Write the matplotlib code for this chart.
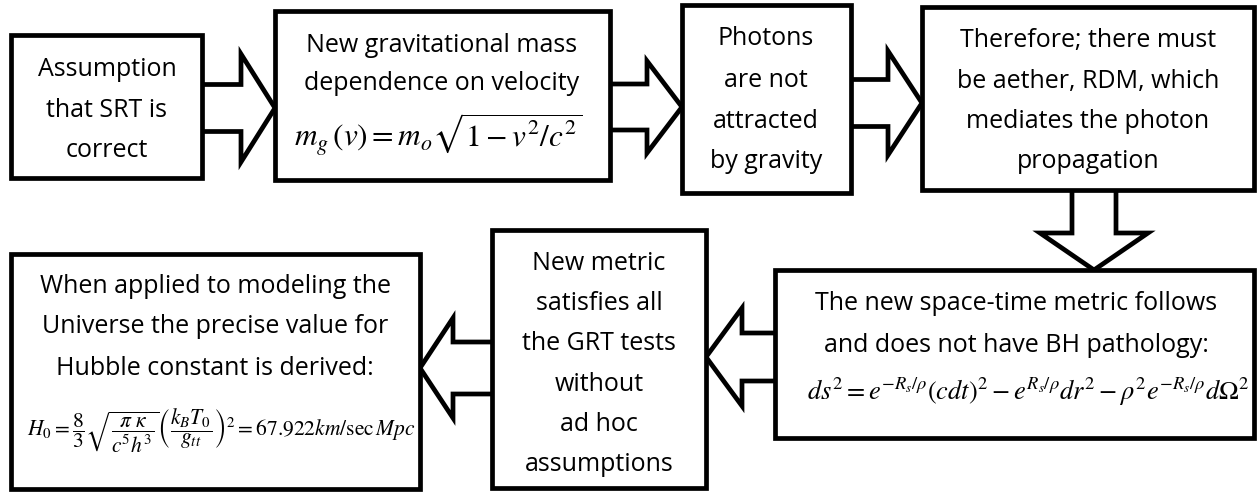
import matplotlib
matplotlib.use("Agg")
import matplotlib.pyplot as plt
from matplotlib.patches import Rectangle, Polygon

plt.rcParams['font.family'] = ['Open Sans', 'DejaVu Sans']
plt.rcParams['mathtext.fontset'] = 'stix'

# texto de cada caja (lineas)
box1_lines = ["Assumption", "that SRT is", "correct"]
box2_lines = ["New gravitational mass", "dependence on velocity"]
box2_formula = r"$m_g\,(v) = m_o\sqrt{1 - v^2/c^2}$"
box3_lines = ["Photons", "are not", "attracted", "by gravity"]
box4_lines = ["Therefore; there must", "be aether, RDM, which",
              "mediates the photon", "propagation"]
box5_lines = ["The new space-time metric follows", "and does not have BH pathology:"]
box5_formula = (r"$ds^2 = e^{-R_s/\rho}(cdt)^2 - e^{R_s/\rho}dr^2"
                r" - \rho^2 e^{-R_s/\rho}d\Omega^2$")
box6_lines = ["New metric", "satisfies all", "the GRT tests", "without", "ad hoc", "assumptions"]
box7_lines = ["When applied to modeling the", "Universe the precise value for",
              "Hubble constant is derived:"]
box7_formula = (r"$H_0 = \dfrac{8}{3}\sqrt{\dfrac{\pi\ \kappa}{c^5h^3}}"
                r"\left(\dfrac{k_BT_0}{g_{tt}}\right)^2 = 67.922km/\sec Mpc$")

# layout en pixeles: (x0, y0, x1, y1)
cajas = [(11, 35, 202, 178), (275, 11, 610, 180), (682, 5, 851, 193),
         (922, 7, 1254, 190), (775, 270, 1254, 438), (492, 230, 706, 488),
         (11, 254, 420, 489)]

fig = plt.figure(figsize=(12.57, 4.93), dpi=100)
ax = fig.add_axes([0, 0, 1, 1])
ax.set_xlim(0, 1257)
ax.set_ylim(493, 0)
ax.axis('off')

LW = 3.4


def flecha_h(x0, x1, yc, s, h, hl):
    # flecha horizontal, de x0 (cola) a x1 (punta)
    d = 1 if x1 > x0 else -1
    xb = x1 - d * hl
    pts = [(x0, yc - s), (xb, yc - s), (xb, yc - h), (x1, yc),
           (xb, yc + h), (xb, yc + s), (x0, yc + s)]
    ax.add_patch(Polygon(pts, closed=False, facecolor='white', edgecolor='black',
                         lw=LW, joinstyle='miter', zorder=1))


def flecha_v(y0, y1, xc, s, h, hl):
    yb = y1 - hl
    pts = [(xc - s, y0), (xc - s, yb), (xc - h, yb), (xc, y1),
           (xc + h, yb), (xc + s, yb), (xc + s, y0)]
    ax.add_patch(Polygon(pts, closed=False, facecolor='white', edgecolor='black',
                         lw=LW, joinstyle='miter', zorder=1))


flecha_h(202, 275, 108, 23.5, 54, 34)
flecha_h(610, 682, 107, 23, 46, 35)
flecha_h(851, 922, 103, 23.5, 52, 34)
flecha_v(190, 270, 1094, 22, 54, 37)
flecha_h(775, 706, 357, 24, 49, 36)
flecha_h(492, 420, 368, 26, 50, 33)

for (x0, y0, x1, y1) in cajas:
    ax.add_patch(Rectangle((x0, y0), x1 - x0, y1 - y0, facecolor='white',
                           edgecolor='black', lw=LW, joinstyle='miter', zorder=2))

FS = 18


def escribe(lines, xc, ys):
    for t, y in zip(lines, ys):
        ax.text(xc, y, t, ha='center', va='baseline', fontsize=FS, zorder=3)


escribe(box1_lines, 107, [76, 117, 157])
escribe(box2_lines, 442, [52, 90])
ax.text(438, 147, box2_formula, ha='center', va='baseline', fontsize=22.5, zorder=3)
escribe(box3_lines, 766, [45, 87, 128, 168])
escribe(box4_lines, 1088, [47, 88, 128, 168])
escribe(box5_lines, 1016, [310, 352])
ax.text(1028, 400, box5_formula, ha='center', va='baseline', fontsize=19, zorder=3)
escribe(box6_lines, 599, [270, 310, 350, 391, 431, 471])
escribe(box7_lines, 215, [293, 333, 375])
ax.text(221, 431, box7_formula, ha='center', va='center', fontsize=15.5, zorder=3)

plt.savefig("out.png", dpi=100)
